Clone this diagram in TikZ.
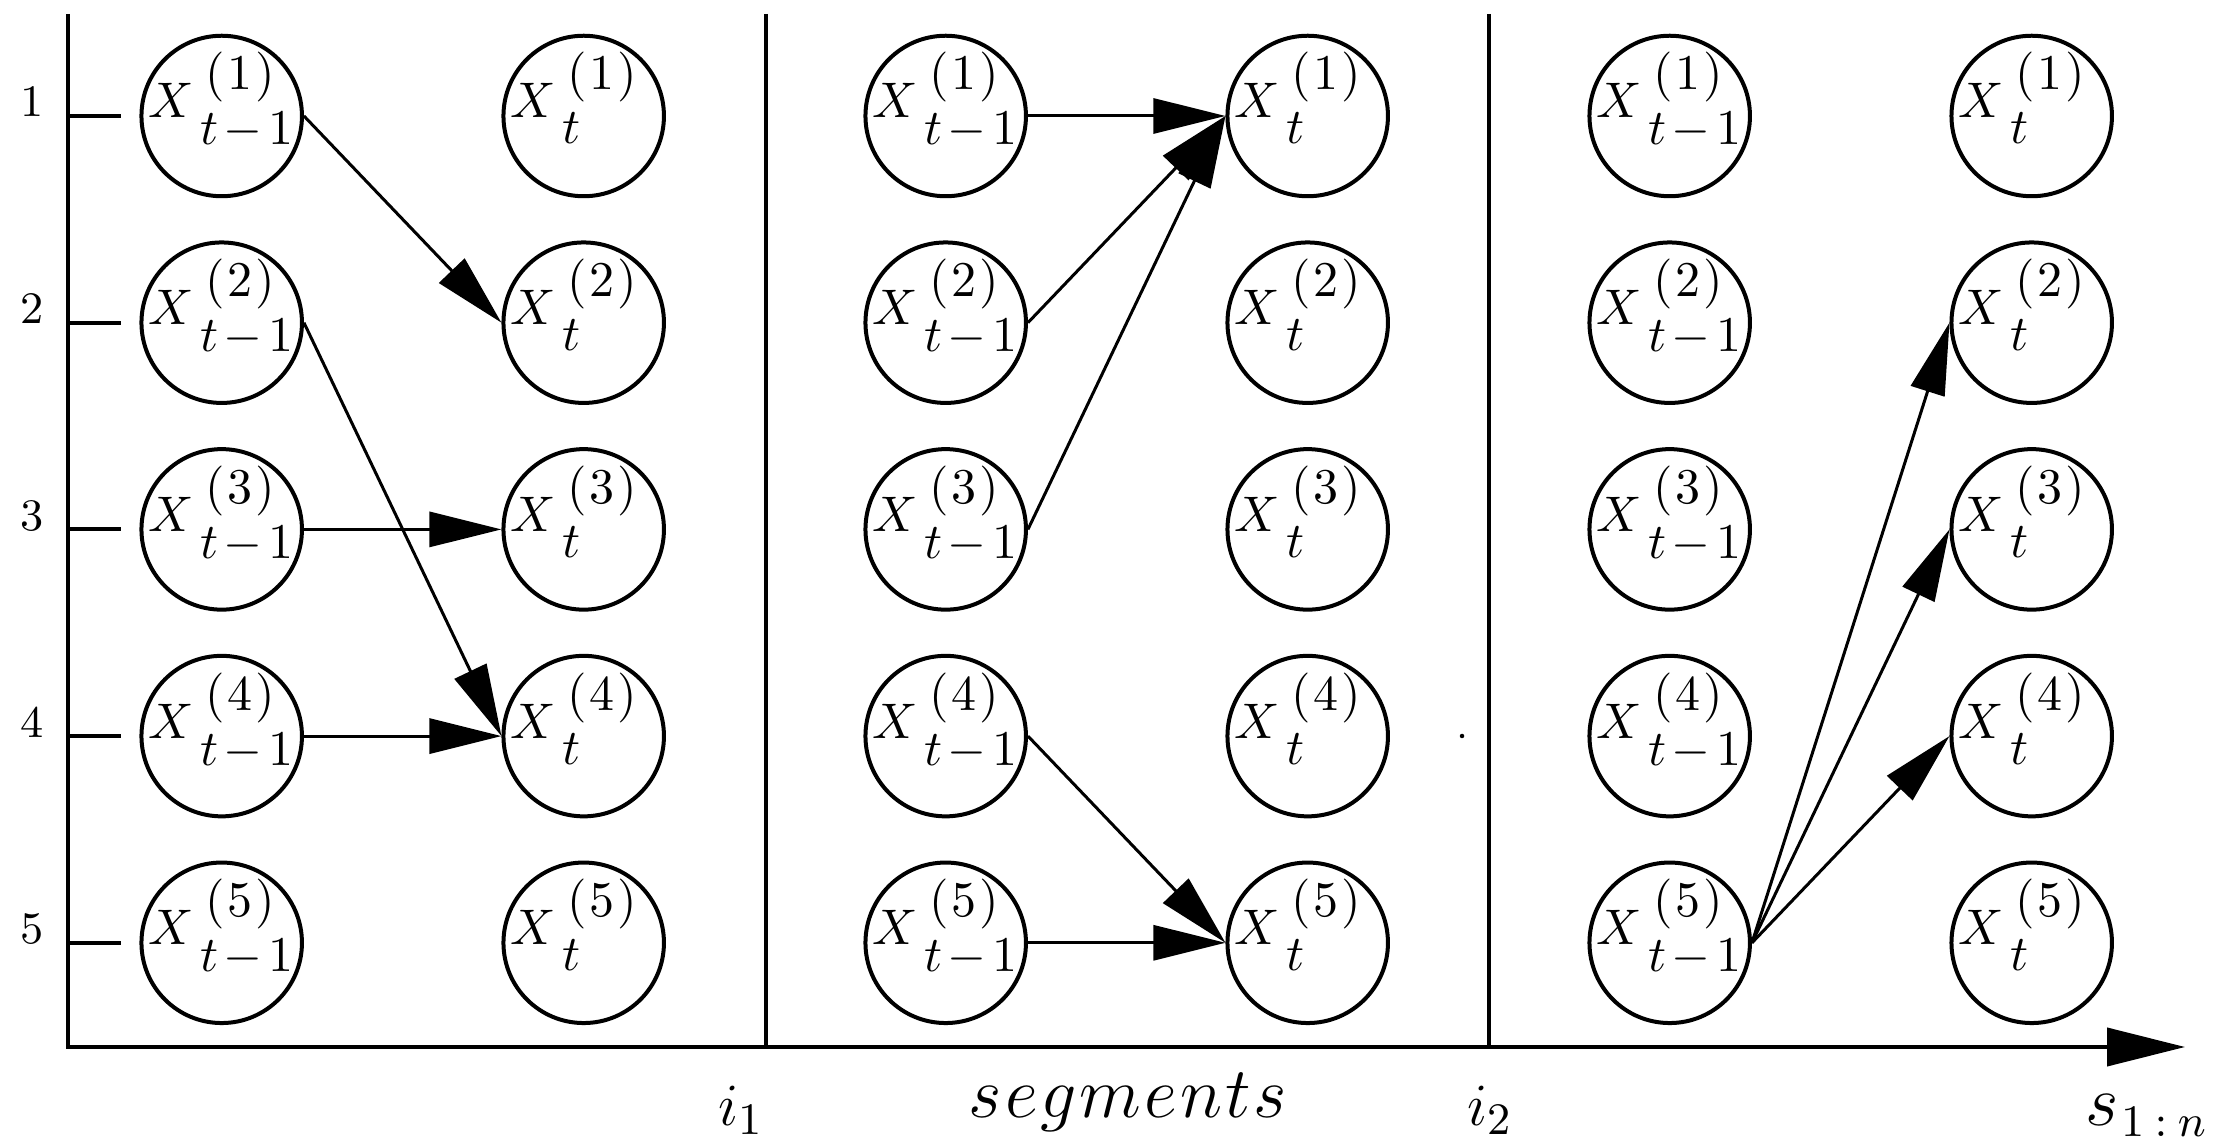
\documentclass[tikz,border=0pt]{standalone}
\usetikzlibrary{arrows.meta}

% particle labels: X with the particle index above and the time index below
\newcommand{\prevlab}[1]{\makebox[29.2pt][l]{\raisebox{-0.4pt}[0pt][0pt]{$X$\kern1.2pt\rlap{\kern1pt\raisebox{5.6pt}{$(\mkern1mu#1\mkern1mu)$}}\raisebox{-5.4pt}{$t\mkern2mu{-}\mkern2mu1$}}}}
\newcommand{\curlab}[1]{\makebox[29.2pt][l]{\raisebox{-0.4pt}[0pt][0pt]{$X$\kern1.2pt\rlap{\kern1pt\raisebox{5.6pt}{$(\mkern1mu#1\mkern1mu)$}}\raisebox{-5.2pt}{$t$}}}}

\begin{document}
\begin{tikzpicture}[x=0.2pt,y=-0.2pt,
  state/.style={circle,draw,line width=0.8pt,minimum size=32.1pt,inner sep=0pt},
  link/.style={line width=0.6pt,-{Triangle[length=14.4pt,width=7pt]}},
  axisline/.style={line width=0.8pt},
  rowlab/.style={anchor=base,font=\small,inner sep=0pt},
  axlab/.style={anchor=base,inner sep=0pt}]
\useasboundingbox (0,0) rectangle (2225,1142);

% particle states, ticks and particle numbers
\foreach \r/\y in {1/116,2/322.7,3/529.4,4/736.1,5/942.8}{
  \foreach \p/\q/\xx in {a/b/221.7,c/d/945.7,e/f/1669.7}{
    \node[state] (\p\r) at (\xx,\y) {\prevlab{\r}};
    \node[state] (\q\r) at (\xx+362,\y) {\curlab{\r}};
  }
  \draw[axisline] (68,\y) -- (121,\y);
  \node[rowlab] (n\r) at (32,\y+1) {\r};
}

% axes and segment boundaries
\coordinate (top) at (68,14);
\coordinate (origin) at (68,1047);
\coordinate (xend) at (2185,1047);
\draw[axisline,-{Triangle[length=15.6pt,width=7.6pt]}] (top) -- (origin) -- (xend);
\coordinate (s1top) at (766,14);
\coordinate (s1bot) at (766,1047);
\coordinate (s2top) at (1489,14);
\coordinate (s2bot) at (1489,1047);
\draw[axisline] (s1top) -- (s1bot);
\draw[axisline] (s2top) -- (s2bot);

% axis labels
\node[axlab,font=\fontsize{13}{15}\selectfont] (i1) at (741,1125) {$i_1$};
\node[axlab,font=\fontsize{14}{16}\selectfont] (seg) at (1128,1117)
  {$s\kern0.6pt e\kern0.6pt g\kern0.6pt m\kern0.6pt e\kern0.6pt n\kern0.6pt t\kern0.6pt s$};
\node[axlab,font=\fontsize{13}{15}\selectfont] (i2) at (1490,1125) {$i_2$};
\node[anchor=base west,inner sep=0pt] (s) at (2084,1125)
  {\fontsize{15.5}{18}\selectfont$s$\kern0.6pt\raisebox{-2.3pt}{\fontsize{9.2}{11}\selectfont$1\mkern4mu{:}\mkern4mu n$}};

% stray mark
\fill (1462,736) circle (0.45pt);

% first segment
\draw[link] (a1.east) -- (b2.west);
\draw[link] (a2.east) -- (b4.west);
\draw[link] (a3.east) -- (b3.west);
\draw[link] (a4.east) -- (b4.west);
% second segment
\draw[link] (c1.east) -- (d1.west);
\draw[link] (c2.east) -- (d1.west);
\draw[link] (c3.east) -- (d1.west);
\draw[link] (c4.east) -- (d5.west);
\draw[link] (c5.east) -- (d5.west);
% third segment
\draw[link] (e5.east) -- (f2.west);
\draw[link] (e5.east) -- (f3.west);
\draw[link] (e5.east) -- (f4.west);
\end{tikzpicture}
\end{document}
